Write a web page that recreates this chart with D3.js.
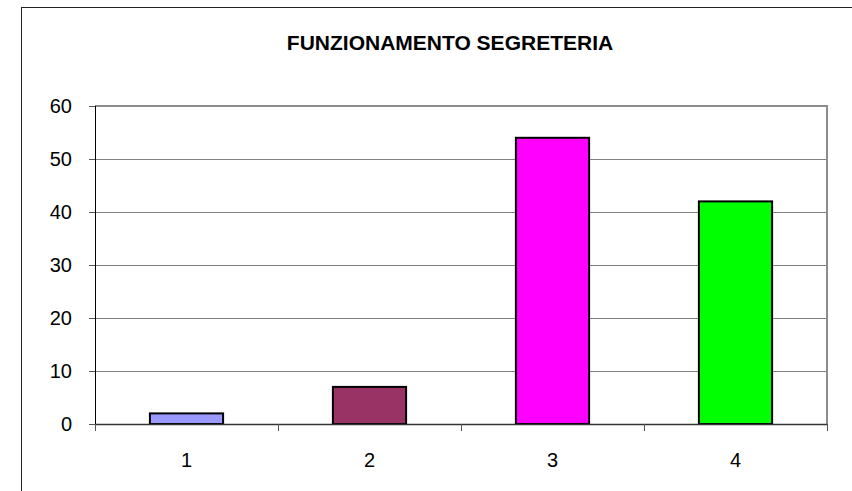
<!DOCTYPE html>
<html>
<head>
<meta charset="utf-8">
<script src="https://cdn.jsdelivr.net/npm/d3@7"></script>
<style>
  body { margin: 0; background: #fff; }
  svg { display: block; font-family: Arial, 'Liberation Sans', sans-serif; }
</style>
</head>
<body>
<div class="container"></div>
<script>
// dati
const title = 'FUNZIONAMENTO SEGRETERIA'
const categories = ['1', '2', '3', '4']
const values = [2, 7, 54, 42]
const barColors = ['#9999ff', '#993366', '#ff00ff', '#00ff00']
const yTicks = [0, 10, 20, 30, 40, 50, 60]

const w = 852
const h = 491
const plot = { left: 95, right: 827, top: 106, bottom: 424 }

const svg = d3.select('.container')
              .append('svg')
              .attr('width', w)
              .attr('height', h)

// cornice esterna (esce dall'immagine a destra e in basso)
svg.append('rect')
   .attr('x', 21.5)
   .attr('y', 7.5)
   .attr('width', 900)
   .attr('height', 600)
   .attr('fill', 'none')
   .attr('stroke', '#222')
   .attr('stroke-width', 1)

// titolo
svg.append('text')
   .attr('x', (286 + 614) / 2)
   .attr('y', 50)
   .attr('text-anchor', 'middle')
   .attr('font-weight', 'bold')
   .attr('font-size', 21)
   .text(title)

// scale
let xScale = d3.scaleBand()
               .domain(categories)
               .range([plot.left, plot.right])
               .padding(0)
let yScale = d3.scaleLinear()
               .domain([0, 60])
               .range([plot.bottom, plot.top])

// griglia
svg.append('g')
   .attr('class', 'grid')
   .selectAll('line')
   .data(yTicks.filter((d) => d > 0 && d < 60))
   .enter()
   .append('line')
   .attr('x1', plot.left)
   .attr('x2', plot.right)
   .attr('y1', (d) => Math.round(yScale(d)) + 0.5)
   .attr('y2', (d) => Math.round(yScale(d)) + 0.5)
   .attr('stroke', '#808080')
   .attr('stroke-width', 1)

// bordo area grafico (sopra e a destra)
svg.append('path')
   .attr('d', 'M' + plot.left + ',' + yScale(60) + 'H' + plot.right + 'V' + plot.bottom)
   .attr('fill', 'none')
   .attr('stroke', '#8c8c8c')
   .attr('stroke-width', 2)

// barre
const barW = xScale.bandwidth() * 0.4
svg.append('g')
   .attr('class', 'bars')
   .selectAll('rect')
   .data(values)
   .enter()
   .append('rect')
   .attr('x', (d, i) => xScale(categories[i]) + (xScale.bandwidth() - barW) / 2)
   .attr('y', (d) => yScale(d))
   .attr('width', barW)
   .attr('height', (d) => yScale(0) - yScale(d))
   .attr('fill', (d, i) => barColors[i])
   .attr('stroke', '#000')
   .attr('stroke-width', 2)

// asse y
let yAxis = d3.axisLeft(yScale)
              .tickValues(yTicks)
              .tickSize(6)
              .tickPadding(17)
              .tickFormat(d3.format('d'))
const gy = svg.append('g')
   .attr('class', 'y-axis')
   .attr('transform', 'translate(' + plot.left + ',0)')
   .call(yAxis)
gy.select('.domain').remove()
gy.selectAll('.tick line').attr('stroke', '#555')
gy.selectAll('text')
  .attr('font-size', 20)
  .attr('font-family', 'Arial, "Liberation Sans", sans-serif')
  .attr('fill', '#000')
svg.append('line')
   .attr('x1', plot.left + 0.5).attr('x2', plot.left + 0.5)
   .attr('y1', plot.top).attr('y2', plot.bottom)
   .attr('stroke', '#000')

// asse x: tacche sui confini delle categorie
const bounds = categories.map((c) => xScale(c)).concat([plot.right])
const gx = svg.append('g').attr('class', 'x-axis')
gx.append('line')
  .attr('x1', plot.left).attr('x2', plot.right)
  .attr('y1', plot.bottom + 0.5).attr('y2', plot.bottom + 0.5)
  .attr('stroke', '#333')
  .attr('stroke-width', 1.5)
gx.selectAll('line.tk')
  .data(bounds)
  .enter()
  .append('line')
  .attr('class', 'tk')
  .attr('x1', (d) => Math.round(d) + 0.5)
  .attr('x2', (d) => Math.round(d) + 0.5)
  .attr('y1', plot.bottom)
  .attr('y2', plot.bottom + 7)
  .attr('stroke', '#555')
gx.selectAll('text')
  .data(categories)
  .enter()
  .append('text')
  .attr('x', (d) => xScale(d) + xScale.bandwidth() / 2)
  .attr('y', 467)
  .attr('text-anchor', 'middle')
  .attr('font-size', 20)
  .text((d) => d)
</script>
</body>
</html>
